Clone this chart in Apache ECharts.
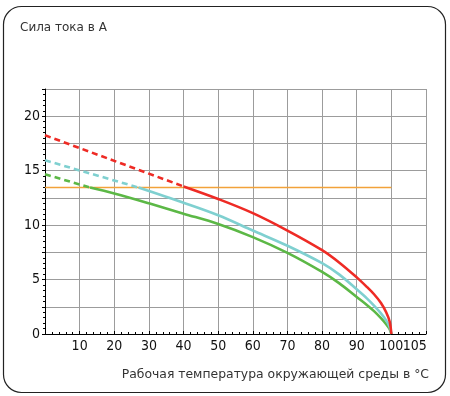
<!DOCTYPE html>
<html>
<head>
<meta charset="utf-8">
<script src="https://cdn.jsdelivr.net/npm/echarts@6/dist/echarts.min.js"></script>
<style>
html,body{margin:0;padding:0;background:#fff;}
#chart{width:450px;height:396px;}
</style>
</head>
<body>
<div id="chart"></div>
<script>
// ---- data ----
var titleText = 'Сила тока в А';
var xAxisTitle = 'Рабочая температура окружающей среды в °C';
var xTickLabels = [10, 20, 30, 40, 50, 60, 70, 80, 90, 100];
var xExtraLabel = 105;
var yTickLabels = [0, 5, 10, 15, 20];

var redDashed = [[0, 18.25], [40, 13.55]];
var redSolid = [[40, 13.55], [50, 12.4], [60, 11.1], [70, 9.5], [80, 7.7], [85, 6.55], [90, 5.2], [93, 4.3], [95, 3.65], [97, 2.85], [98.5, 2.0], [99.5, 1.15], [100, 0]];

var cyanDashed = [[0, 15.95], [27, 13.45]];
var cyanSolid = [[27, 13.45], [40, 12.05], [50, 10.9], [60, 9.5], [70, 8.1], [80, 6.5], [85, 5.45], [90, 4.1], [93, 3.25], [95, 2.6], [97, 1.9], [98.5, 1.25], [99.5, 0.65], [100, 0]];

var greenDashed = [[0, 14.67], [13, 13.45]];
var greenSolid = [[13, 13.45], [20, 12.9], [30, 12.0], [40, 11.05], [50, 10.1], [60, 8.9], [70, 7.45], [80, 5.7], [85, 4.65], [90, 3.4], [93, 2.65], [95, 2.1], [97, 1.45], [98.5, 0.9], [99.5, 0.45], [100, 0]];

var orangeLevel = [[0, 13.45], [100, 13.45]];

// ---- chart ----
var chart = echarts.init(document.getElementById('chart'), null, {renderer: 'canvas'});
var tickFont = "'Liberation Sans Narrow', 'DejaVu Sans Condensed', 'Arial Narrow', sans-serif";
var textFont = "'DejaVu Sans', sans-serif";

function lineSeries(data, color, dashed) {
  return {
    type: 'line', data: data, xAxisIndex: 0, yAxisIndex: 0,
    symbol: 'none', smooth: dashed ? false : 0.35,
    lineStyle: {color: color, width: 2.6, type: dashed ? [6, 4] : 'solid', cap: 'butt'},
    z: 3, silent: true
  };
}

chart.setOption({
  animation: false,
  backgroundColor: '#fff',
  title: [
    {text: titleText, left: 15, top: 17, textStyle: {fontFamily: textFont, fontSize: 12, fontWeight: 'normal', color: '#333'}},
    {text: xAxisTitle, right: 16, top: 364, textStyle: {fontFamily: textFont, fontSize: 12.4, fontWeight: 'normal', color: '#333'}}
  ],
  graphic: [{
    type: 'rect', shape: {x: 3.5, y: 6.5, width: 442, height: 386, r: 18},
    style: {fill: null, stroke: '#222', lineWidth: 1.2}, silent: true, z: -1
  }],
  grid: {left: 45, top: 89, right: 24, bottom: 62, containLabel: false},
  xAxis: [{
    type: 'value', min: 0, max: 110, interval: 10,
    axisLine: {show: true, onZero: false, lineStyle: {color: '#000', width: 1}},
    axisTick: {show: true, inside: true, length: 3, lineStyle: {color: '#000'}},
    minorTick: {show: true, splitNumber: 5, length: 2, lineStyle: {color: '#000'}},
    splitLine: {show: true, lineStyle: {color: '#9c9c9c', width: 1}},
    axisLabel: {
      margin: 5, fontFamily: tickFont, fontSize: 14, color: '#111',
      formatter: function (v) { return xTickLabels.indexOf(v) >= 0 ? String(v) : ''; }
    }
  }, {
    type: 'value', min: 0, max: 110, interval: 5, position: 'bottom',
    axisLine: {show: false}, axisTick: {show: false}, splitLine: {show: false},
    axisLabel: {
      margin: 5, fontFamily: tickFont, fontSize: 14, color: '#111',
      formatter: function (v) { return v === xExtraLabel ? '{s|' + v + '}' : ''; },
      rich: {s: {fontFamily: tickFont, fontSize: 14, color: '#111', padding: [0, 0, 0, 12]}}
    }
  }],
  yAxis: {
    type: 'value', min: 0, max: 22.5, interval: 2.5,
    axisLine: {show: true, lineStyle: {color: '#000', width: 1}},
    axisTick: {show: true, inside: false, length: 3, lineStyle: {color: '#000'}},
    minorTick: {show: true, splitNumber: 5, length: 2, lineStyle: {color: '#000'}},
    splitLine: {show: true, lineStyle: {color: '#9c9c9c', width: 1}},
    axisLabel: {
      margin: 5, fontFamily: tickFont, fontSize: 14, color: '#111',
      formatter: function (v) { return yTickLabels.indexOf(v) >= 0 ? String(v) : ''; }
    }
  },
  series: [
    {type: 'line', data: orangeLevel, symbol: 'none', lineStyle: {color: '#f2a23a', width: 1.4}, z: 2, silent: true},
    lineSeries(greenDashed, '#5cb846', true),
    lineSeries(greenSolid, '#5cb846', false),
    lineSeries(cyanDashed, '#7fd0d0', true),
    lineSeries(cyanSolid, '#7fd0d0', false),
    lineSeries(redDashed, '#ee2b25', true),
    lineSeries(redSolid, '#ee2b25', false)
  ]
});
</script>
</body>
</html>
